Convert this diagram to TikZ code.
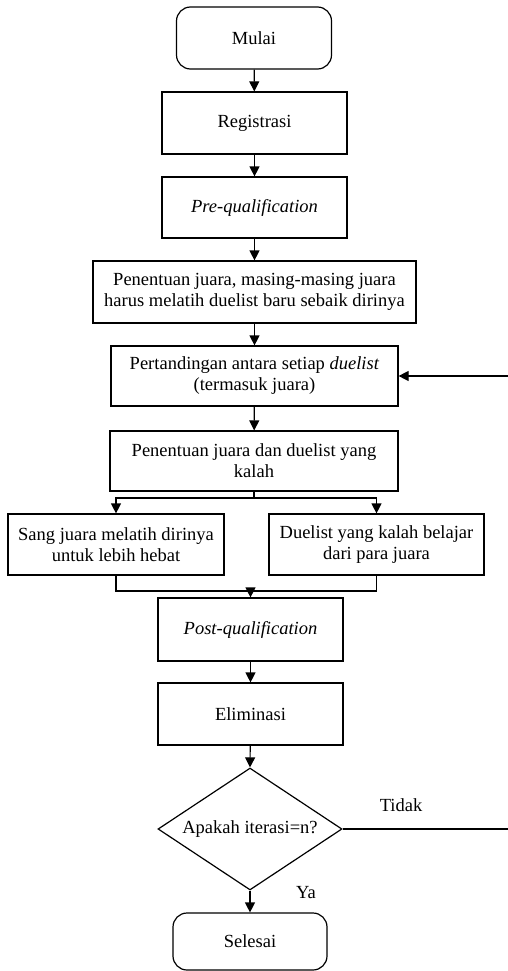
\documentclass[tikz,border=0pt]{standalone}
\usepackage{fontspec}
\setmainfont{Liberation Serif}
\usetikzlibrary{arrows.meta,shapes.geometric}
\begin{document}
\begin{tikzpicture}[x=1pt,y=-1pt,line width=1.2pt,
    font=\fontsize{18.5}{21}\selectfont,
    kotak/.style={draw,rectangle,inner sep=0pt,align=center},
    ujung/.style={draw,rectangle,rounded corners=14pt,inner sep=0pt},
    arr/.style={-{Triangle[width=10pt,length=10pt]}}]
      \useasboundingbox (0,0) rectangle (508,971);
      % alur utama
      \node[ujung,minimum width=155pt,minimum height=62pt](mulai) at (254,38) {Mulai};
      \node[kotak,minimum width=185pt,minimum height=62pt](reg) at (254.5,123) {Registrasi};
      \node[kotak,minimum width=185pt,minimum height=61pt](preq) at (254.5,207.5) {\textit{Pre-qualification}};
      \node[kotak,minimum width=323pt,minimum height=62pt](tentu) at (254.5,292) {Penentuan juara, masing-masing juara\\harus melatih duelist baru sebaik dirinya};
      \node[kotak,minimum width=287pt,minimum height=60pt](duel) at (254.5,376) {Pertandingan antara setiap \textit{duelist}\\(termasuk juara)};
      \node[kotak,minimum width=288pt,minimum height=60pt](hasil) at (254,461) {Penentuan juara dan duelist yang\\kalah};
      \node[kotak,minimum width=216pt,minimum height=61pt](latih) at (116,544.5) {Sang juara melatih dirinya\\untuk lebih hebat};
      \node[kotak,minimum width=215pt,minimum height=61pt](belajar) at (376.5,544.5) {Duelist yang kalah belajar\\dari para juara};
      \node[kotak,minimum width=185pt,minimum height=63pt](post) at (250.5,629.5) {\textit{Post-qualification}};
      \node[kotak,minimum width=185pt,minimum height=62pt](elim) at (250.5,714) {Eliminasi};
      \node[draw,diamond,aspect=1.5,inner sep=0pt,minimum width=184pt,minimum height=122pt](cek) at (250,829) {Apakah iterasi=n?};
      \node[ujung,minimum width=154pt,minimum height=57pt](selesai) at (250,941.5) {Selesai};
      % penghubung
      \draw[arr] (mulai) -- (reg);
      \draw[arr] (reg) -- (preq);
      \draw[arr] (preq) -- (tentu);
      \draw[arr] (tentu) -- (duel);
      \draw[arr] (duel) -- (hasil);
      \coordinate (cabang) at (254,498);
      \draw (hasil.south) -- (cabang);
      \draw[arr] (cabang) -| (latih.north);
      \draw[arr] (cabang) -| (belajar.north);
      \coordinate (gabung) at (250.5,591);
      \draw (latih.south) |- (gabung) -| (belajar.south);
      \draw[arr] (gabung) -- (post.north);
      \draw[arr] (post) -- (elim);
      \draw[arr] (elim) -- (cek.north);
      \draw[arr] (cek.south) -- (selesai.north);
      \node(ya) at (306,893) {Ya};
      % kembali ke pertandingan
      \coordinate (tidakR) at (508,829);
      \coordinate (ulangR) at (508,376);
      \draw (cek.east) -- (tidakR);
      \node(tidak) at (401,805) {Tidak};
      \draw[arr] (ulangR) -- (duel.east);
    \end{tikzpicture}
\end{document}
